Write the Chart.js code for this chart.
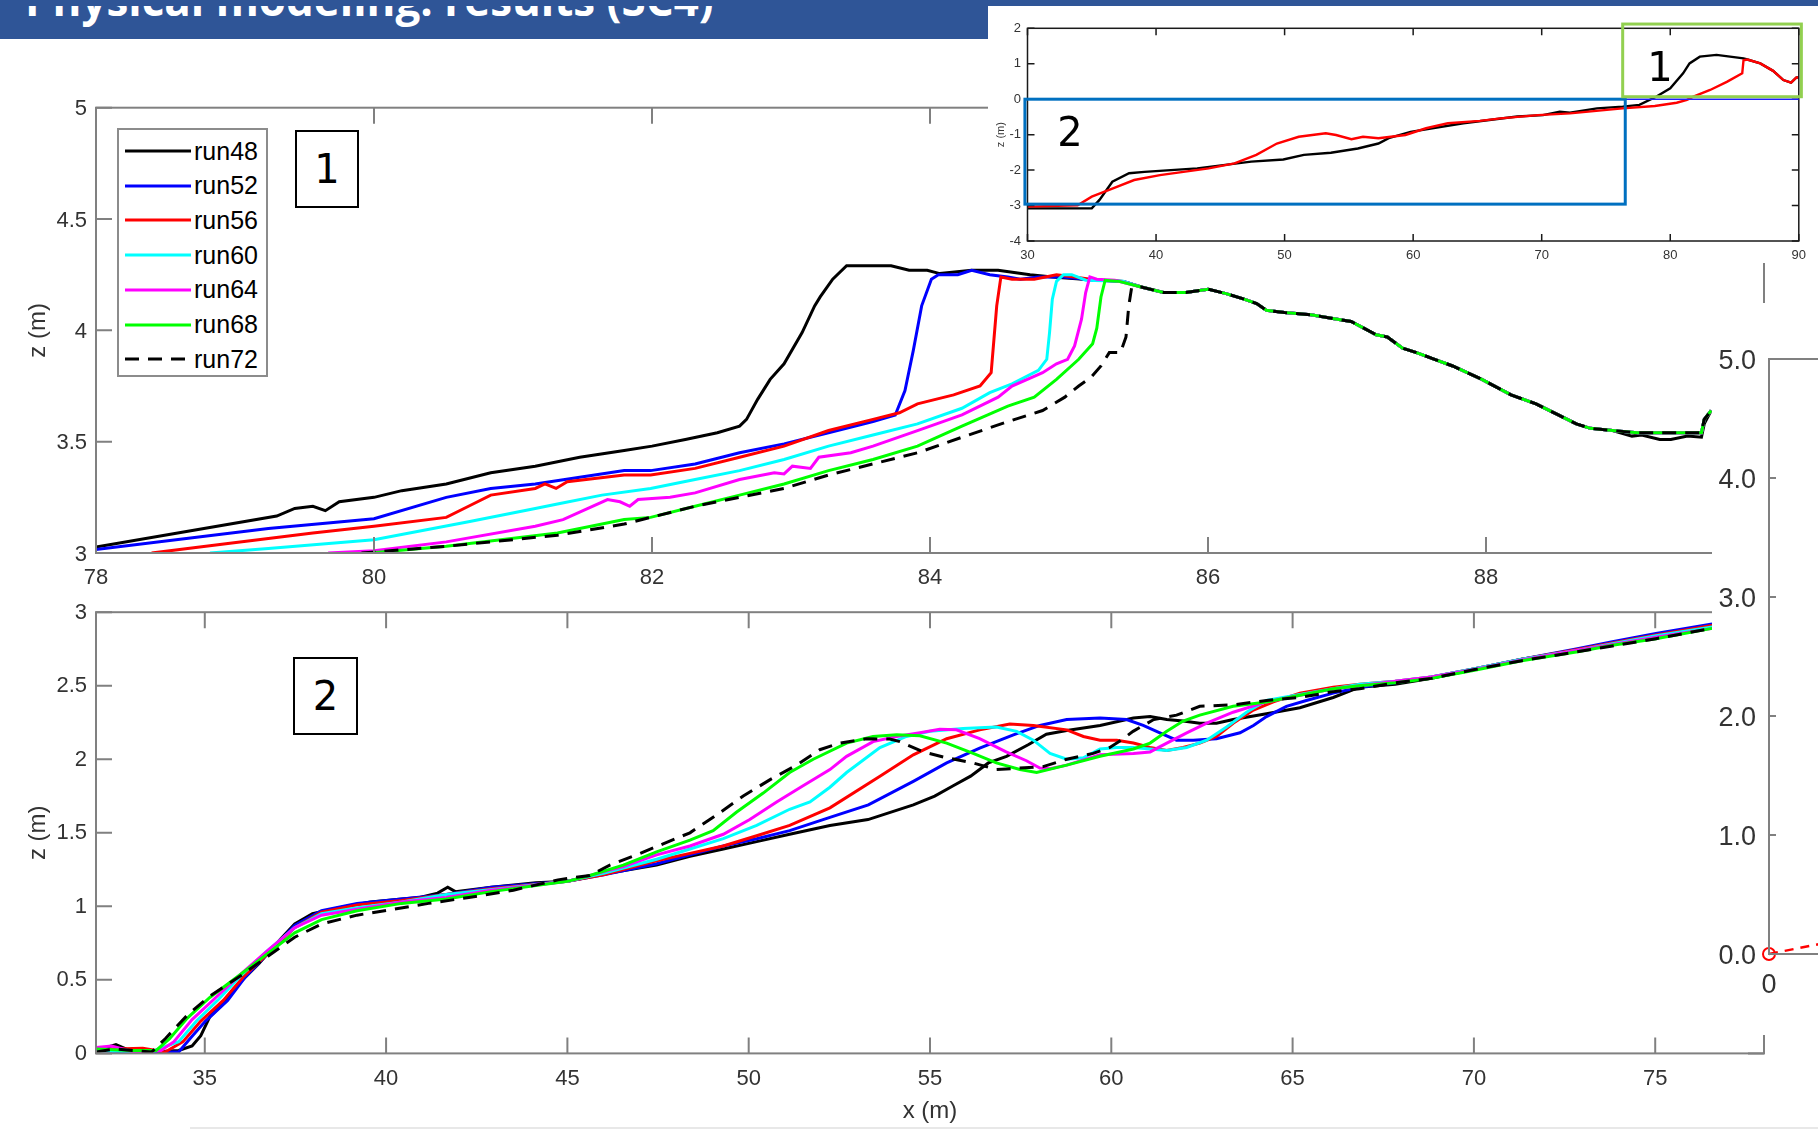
<!DOCTYPE html>
<html>
<head>
<meta charset="utf-8">
<title>Physical modeling: results (SC4)</title>
<script src="https://cdn.jsdelivr.net/npm/chart.js@4.4.1/dist/chart.umd.min.js"></script>
<style>
  html, body { margin: 0; padding: 0; width: 1818px; height: 1131px; overflow: hidden; background: #fff; }
  .abs { position: absolute; }
  #banner { left: 0; top: 0; width: 988px; height: 39px; background: #2f5597; overflow: hidden; }
  #strip { left: 0; top: 0; width: 1818px; height: 6px; background: #2f5597; }
  #title { left: 25px; color: #fff; font-weight: bold; font-family: "Open Sans", sans-serif; white-space: nowrap; line-height: 1; }
  #inset { left: 988px; top: 6px; width: 830px; height: 257px; background: #fff; }
  #overlay { left: 1712px; top: 303px; width: 106px; height: 732px; background: #fff; overflow: hidden; }
  #footline { left: 190px; top: 1127px; width: 1628px; height: 2px; background: #e8e8e8; }
  .tag { box-sizing: border-box; border: 2px solid #000; font-family: "DejaVu Sans", sans-serif; font-size: 40px; color: #000;
         display: flex; align-items: center; justify-content: center; background: #fff; }
  .num { font-family: "DejaVu Sans", sans-serif; font-size: 40px; color: #000; transform: translate(-50%, -50%); line-height: 1; }
  #legend { left: 117px; top: 128px; width: 151px; height: 249px; box-sizing: border-box; border: 2px solid #8c8c8c; background: #fff; }
  .lrow { position: absolute; left: 0; height: 34px; display: flex; align-items: center;
          font-family: "Liberation Sans", Arial, sans-serif; font-size: 25px; color: #000; }
  .lrow svg { margin-left: 6px; margin-right: 3px; }
</style>
</head>
<body>
<canvas id="topChart" class="abs" width="1800" height="540" style="left:0;top:60px"></canvas>
<canvas id="bottomChart" class="abs" width="1800" height="541" style="left:0;top:590px"></canvas>

<div id="legend" class="abs"></div>
<div class="abs tag" style="left:295px;top:130px;width:64px;height:78px">1</div>
<div class="abs tag" style="left:293px;top:657px;width:65px;height:78px">2</div>

<div id="banner" class="abs"><div id="title" class="abs">Physical modeling: results (SC4)</div></div>
<div id="strip" class="abs"></div>

<div id="inset" class="abs">
  <canvas id="insetChart" class="abs" width="830" height="257" style="left:0;top:0"></canvas>
</div>
<div class="abs num" style="left:1660px;top:67px">1</div>
<div class="abs num" style="left:1070px;top:132px">2</div>

<div id="overlay" class="abs">
  <canvas id="sideChart" class="abs" width="700" height="732" style="left:0;top:0"></canvas>
</div>
<div id="footline" class="abs"></div>

<script>
// tick labels
const topTicksX = [78, 80, 82, 84, 86, 88];
const topTicksY = [3, 3.5, 4, 4.5, 5];
const bottomTicksX = [35, 40, 45, 50, 55, 60, 65, 70, 75];
const bottomTicksY = [0, 0.5, 1, 1.5, 2, 2.5, 3];
const insetTicksX = [30, 40, 50, 60, 70, 80, 90];
const insetTicksY = [-4, -3, -2, -1, 0, 1, 2];
const sideTicksX = [0, 2, 4, 6, 8, 10];
const sideTicksY = [0, 1, 2, 3, 4, 5];

const runNames = ['run48', 'run52', 'run56', 'run60', 'run64', 'run68', 'run72'];
const runColors = ['#000000', '#0000ff', '#ff0000', '#00ffff', '#ff00ff', '#00ff00', '#000000'];

// zone 1 (berm crest), x (m) / z (m)
const top48 = [[78,3.027],[79.3,3.166],[79.43,3.2],[79.56,3.21],[79.65,3.19],[79.75,3.23],[80,3.25],[80.2,3.28],[80.52,3.31],[80.84,3.36],[81.16,3.39],[81.48,3.43],[81.8,3.46],[82.0,3.48],[82.24,3.51],[82.47,3.54],[82.63,3.57],[82.68,3.6],[82.76,3.69],[82.85,3.78],[82.95,3.85],[83.08,3.99],[83.17,4.11],[83.21,4.15],[83.3,4.23],[83.4,4.29],[83.72,4.29],[83.85,4.27],[83.98,4.27],[84.07,4.255],[84.3,4.27],[84.49,4.27],[84.72,4.25],[84.88,4.24],[85.2,4.225],[85.39,4.22]];
const top52 = [[78,3.016],[79.24,3.11],[80,3.154],[80.52,3.25],[80.84,3.29],[81.16,3.31],[81.48,3.34],[81.8,3.37],[81.99,3.37],[82.31,3.4],[82.63,3.45],[82.95,3.49],[83.27,3.54],[83.59,3.59],[83.75,3.62],[83.82,3.73],[83.88,3.91],[83.94,4.11],[84.01,4.23],[84.06,4.25],[84.2,4.25],[84.3,4.27],[84.43,4.25],[84.56,4.24],[84.65,4.23],[84.78,4.24],[84.95,4.24],[85.2,4.225],[85.39,4.22]];
const top56 = [[78.4,3.0],[78.92,3.04],[79.56,3.09],[80,3.12],[80.52,3.16],[80.68,3.21],[80.84,3.26],[81.16,3.29],[81.23,3.31],[81.31,3.29],[81.39,3.32],[81.8,3.35],[81.99,3.35],[82.31,3.38],[82.63,3.43],[82.95,3.48],[83.27,3.55],[83.59,3.6],[83.78,3.63],[83.91,3.67],[84.17,3.71],[84.36,3.75],[84.44,3.81],[84.46,3.96],[84.48,4.11],[84.51,4.24],[84.59,4.23],[84.75,4.23],[84.91,4.25],[85.04,4.24],[85.2,4.225],[85.39,4.22]];
const top60 = [[78.82,3.0],[79.24,3.02],[80,3.06],[80.68,3.14],[81.16,3.2],[81.32,3.22],[81.64,3.26],[81.99,3.29],[82.31,3.33],[82.63,3.37],[82.95,3.42],[83.27,3.48],[83.59,3.53],[83.91,3.58],[84.23,3.65],[84.43,3.72],[84.59,3.76],[84.78,3.82],[84.84,3.87],[84.86,3.99],[84.88,4.14],[84.91,4.22],[84.96,4.25],[85.02,4.25],[85.12,4.225],[85.39,4.22]];
const top64 = [[79.67,3.0],[80,3.01],[80.52,3.05],[81.16,3.12],[81.36,3.15],[81.68,3.24],[81.77,3.23],[81.84,3.21],[81.9,3.24],[82.13,3.25],[82.31,3.27],[82.63,3.33],[82.88,3.36],[82.95,3.355],[83.01,3.39],[83.14,3.38],[83.2,3.43],[83.43,3.45],[83.59,3.48],[83.91,3.55],[84.23,3.62],[84.49,3.7],[84.59,3.75],[84.81,3.81],[84.91,3.85],[84.99,3.87],[85.04,3.93],[85.09,4.05],[85.12,4.17],[85.15,4.24],[85.2,4.23],[85.33,4.225]];
const top68 = [[79.97,3.0],[80.52,3.03],[81.32,3.09],[81.8,3.15],[81.99,3.16],[82.31,3.21],[82.63,3.26],[82.95,3.31],[83.27,3.37],[83.59,3.42],[83.91,3.48],[84.23,3.57],[84.56,3.66],[84.75,3.7],[84.91,3.78],[85.07,3.87],[85.17,3.94],[85.2,4.01],[85.23,4.15],[85.26,4.225],[85.36,4.22]];
const top72 = [[79.91,3.0],[80.52,3.03],[81.32,3.08],[81.8,3.13],[81.99,3.16],[82.31,3.21],[82.63,3.25],[82.95,3.29],[83.27,3.35],[83.59,3.4],[83.91,3.45],[84.23,3.52],[84.56,3.59],[84.81,3.64],[84.97,3.7],[85.07,3.75],[85.16,3.79],[85.23,3.84],[85.29,3.9],[85.37,3.9],[85.41,3.97],[85.43,4.11],[85.45,4.19]];
// landward slope, identical for all runs
const topTail = [[85.52,4.195],[85.68,4.17],[85.84,4.17],[86.0,4.185],[86.13,4.165],[86.26,4.14],[86.35,4.12],[86.42,4.09],[86.55,4.08],[86.74,4.07],[86.93,4.05],[87.03,4.04],[87.21,3.98],[87.29,3.97],[87.4,3.92],[87.5,3.9],[87.63,3.87],[87.76,3.84],[87.97,3.78],[88.18,3.71],[88.36,3.67],[88.52,3.62],[88.65,3.58],[88.75,3.56],[88.91,3.55]];
const topEnd = [[89.09,3.54],[89.3,3.54],[89.55,3.54],[89.57,3.6],[89.62,3.64]];
const top48End = [[89.05,3.525],[89.12,3.53],[89.25,3.51],[89.33,3.51],[89.45,3.525],[89.55,3.52],[89.57,3.58],[89.62,3.64]];

// zone 2 (lower beach)
const bot48 = [[32,0.02],[32.55,0.06],[32.92,0.02],[33.54,0.01],[34.28,0.02],[34.65,0.05],[34.89,0.12],[35.14,0.25],[35.51,0.34],[36,0.49],[36.49,0.61],[36.99,0.75],[37.48,0.88],[37.97,0.95],[38.71,0.99],[39.57,1.03],[40.43,1.05],[40.93,1.06],[41.42,1.09],[41.7,1.13],[41.91,1.1],[42.9,1.13],[44.13,1.16],[45,1.17],[46,1.22],[47.46,1.28],[48.38,1.34],[49.3,1.39],[50.22,1.44],[51.13,1.49],[52.24,1.55],[53.29,1.59],[54.54,1.69],[55.13,1.75],[55.64,1.82],[56.12,1.885],[56.61,1.975],[57.11,2.02],[57.72,2.1],[58.21,2.17],[58.77,2.195],[59.69,2.23],[60.61,2.28],[61.07,2.29],[61.53,2.27],[61.98,2.26],[62.44,2.245],[62.9,2.245],[63.36,2.27],[64.28,2.31],[65.2,2.35],[66.12,2.42],[66.85,2.49],[67.83,2.51],[68.83,2.55],[70.02,2.61],[71.32,2.68],[72.82,2.74],[73.82,2.79],[75.02,2.85],[76.57,2.91]];
const bot52 = [[32,0.02],[33,0.01],[34.28,0.01],[34.59,0.1],[35.02,0.22],[35.63,0.36],[36.12,0.52],[36.74,0.68],[37.48,0.87],[38.22,0.97],[39.2,1.02],[40.43,1.05],[41.66,1.08],[42.9,1.13],[45,1.17],[46,1.215],[47.46,1.29],[48.38,1.35],[49.3,1.41],[50.22,1.46],[51.13,1.515],[52.24,1.605],[53.3,1.69],[54.54,1.85],[55.46,1.975],[56.37,2.076],[57.3,2.166],[58.03,2.23],[58.77,2.27],[59.69,2.28],[60.42,2.27],[60.88,2.23],[61.34,2.18],[61.8,2.13],[62.26,2.13],[62.9,2.14],[63.55,2.18],[63.92,2.23],[64.28,2.29],[64.83,2.36],[65.38,2.4],[66.12,2.45],[66.85,2.49],[67.83,2.52],[68.83,2.56],[70.02,2.615],[71.32,2.68],[72.82,2.75],[73.82,2.8],[75.02,2.855],[76.57,2.92]];
const bot56 = [[32,0.02],[32.5,0.03],[33.29,0.035],[33.91,0.01],[34.4,0.08],[34.89,0.22],[35.51,0.36],[36.06,0.52],[36.74,0.68],[37.48,0.855],[38.22,0.96],[39.2,1.01],[40.43,1.04],[41.66,1.08],[42.9,1.12],[45,1.17],[46,1.215],[47.46,1.31],[48.38,1.36],[49.3,1.41],[50.22,1.48],[51.13,1.55],[52.24,1.67],[53.62,1.885],[54.54,2.03],[55.46,2.14],[56.37,2.2],[57.2,2.24],[57.85,2.23],[58.77,2.2],[59.23,2.155],[59.69,2.13],[60.15,2.13],[60.61,2.11],[61.07,2.08],[61.53,2.06],[61.98,2.08],[62.44,2.11],[62.9,2.155],[63.36,2.245],[63.92,2.335],[64.47,2.39],[65.2,2.45],[66.12,2.49],[66.85,2.51],[67.83,2.53],[68.83,2.56],[70.02,2.615],[71.32,2.68],[72.82,2.745],[73.82,2.79],[75.02,2.845],[76.57,2.91]];
const bot60 = [[32,0.02],[33.5,0.01],[34.28,0.08],[34.77,0.22],[35.39,0.37],[36,0.53],[36.74,0.7],[37.48,0.855],[38.22,0.95],[39.2,0.99],[40.43,1.03],[41.66,1.08],[45,1.17],[46,1.225],[47.46,1.32],[48.38,1.39],[49.3,1.46],[50.22,1.55],[51.13,1.66],[51.69,1.71],[52.24,1.81],[52.7,1.91],[53.62,2.08],[54.35,2.155],[55,2.19],[55.91,2.21],[56.83,2.22],[57.39,2.19],[57.85,2.13],[58.31,2.04],[58.77,2.0],[59.23,2.01],[59.69,2.07],[60.15,2.08],[60.61,2.08],[61.07,2.07],[61.53,2.06],[62.08,2.08],[62.63,2.13],[63.18,2.22],[63.73,2.32],[64.28,2.4],[65.2,2.44],[66.12,2.48],[66.85,2.51],[67.83,2.53],[68.83,2.56],[70.02,2.615],[71.32,2.68],[72.82,2.74],[73.82,2.785],[75.02,2.84],[76.57,2.9]];
const bot64 = [[32,0.04],[32.43,0.05],[33.05,0.01],[33.79,0.02],[34.15,0.08],[34.65,0.23],[35.26,0.37],[36,0.54],[36.74,0.7],[37.48,0.855],[38.22,0.94],[39.2,0.98],[40.43,1.03],[41.66,1.06],[42.9,1.11],[45,1.17],[46.54,1.27],[47.46,1.35],[48.38,1.41],[49.3,1.49],[50.03,1.59],[50.77,1.71],[51.5,1.82],[52.24,1.93],[52.7,2.02],[53.43,2.12],[54.08,2.155],[54.72,2.18],[55.27,2.204],[55.73,2.2],[56.37,2.14],[57.1,2.05],[57.66,1.99],[58.03,1.94],[58.31,1.935],[58.77,1.96],[59.69,2.03],[60.61,2.04],[61.07,2.05],[61.53,2.11],[62.08,2.18],[62.63,2.245],[63.36,2.32],[64.28,2.39],[65.2,2.435],[66.12,2.48],[66.85,2.5],[67.83,2.53],[68.83,2.56],[70.02,2.61],[71.32,2.675],[72.82,2.74],[73.82,2.78],[75.02,2.83],[76.57,2.89]];
const bot68 = [[32,0.03],[33,0.02],[33.66,0.02],[34.03,0.1],[34.52,0.24],[35.14,0.38],[36,0.54],[36.74,0.68],[37.48,0.82],[38.22,0.91],[39.2,0.97],[40.43,1.02],[41.66,1.05],[42.9,1.1],[45,1.17],[45.62,1.21],[46.54,1.28],[47.46,1.37],[48.38,1.45],[49.02,1.515],[49.66,1.64],[50.4,1.77],[51.13,1.91],[51.78,2.0],[52.7,2.11],[53.43,2.155],[54.08,2.166],[54.72,2.16],[55.46,2.11],[56.19,2.04],[56.83,1.975],[57.48,1.93],[57.94,1.91],[58.77,1.96],[59.69,2.02],[60.61,2.07],[61.07,2.11],[61.53,2.19],[61.98,2.26],[62.44,2.3],[63.36,2.36],[64.28,2.39],[65.2,2.435],[66.12,2.48],[66.85,2.5],[67.83,2.52],[68.83,2.55],[70.02,2.605],[71.32,2.67],[72.82,2.73],[73.82,2.775],[75.02,2.82],[76.57,2.89]];
const bot72 = [[32,0.01],[32.5,0.03],[33.54,0.01],[33.91,0.1],[34.52,0.26],[35.14,0.39],[36,0.53],[36.74,0.66],[37.48,0.79],[38.22,0.88],[39.2,0.94],[40.19,0.98],[41.17,1.02],[42.28,1.06],[43.51,1.11],[44.74,1.18],[45.62,1.21],[46.17,1.28],[46.91,1.35],[47.64,1.425],[48.38,1.5],[49.11,1.62],[49.85,1.75],[50.58,1.86],[51.32,1.96],[51.96,2.065],[52.51,2.11],[53.25,2.14],[53.89,2.137],[54.17,2.12],[54.81,2.05],[55.46,2.01],[56.19,1.975],[56.83,1.93],[57.48,1.94],[58.12,1.95],[58.77,2.0],[59.5,2.04],[59.96,2.08],[60.33,2.14],[60.6,2.19],[61.17,2.27],[61.8,2.3],[62.44,2.36],[63.36,2.37],[64.28,2.4],[65.2,2.42],[66.12,2.46],[66.85,2.48],[67.83,2.52],[68.83,2.55],[70.02,2.61],[71.32,2.67],[72.82,2.73],[73.82,2.77],[75.02,2.82],[76.57,2.89]];

// full profile (inset)
const inset48 = [[30,-3.08],[35,-3.08],[35.6,-2.84],[36.6,-2.33],[37.9,-2.09],[39.1,-2.05],[43.2,-1.95],[47.4,-1.76],[49.9,-1.7],[51.5,-1.57],[53.6,-1.51],[55.7,-1.39],[57.3,-1.25],[58.1,-1.1],[59.8,-0.92],[63.9,-0.68],[68.1,-0.49],[70.1,-0.45],[71.4,-0.35],[72.2,-0.38],[74.3,-0.26],[76.3,-0.21],[77.6,-0.16],[78.9,0.07],[80.0,0.31],[81.0,0.73],[81.5,1.01],[82.3,1.2],[83.6,1.25],[85.7,1.15],[86.0,1.12],[87.0,1.01],[88.0,0.8],[88.8,0.54],[89.4,0.47],[89.8,0.61],[90,0.62]];
const inset56 = [[30,-3.03],[33.9,-2.99],[35,-2.75],[36.6,-2.52],[38.3,-2.28],[40.3,-2.14],[44.1,-1.95],[46.1,-1.81],[47.8,-1.57],[49.4,-1.25],[51.1,-1.06],[53.2,-0.96],[54,-1.01],[55.2,-1.13],[56.1,-1.06],[57.3,-1.1],[59.4,-1.01],[61,-0.82],[62.7,-0.68],[65.2,-0.61],[66.8,-0.54],[69.7,-0.45],[72.2,-0.4],[76.3,-0.26],[78.8,-0.19],[80.5,-0.1],[81.3,-0.02],[81.8,0.07],[83.1,0.26],[84.4,0.49],[85.6,0.73],[85.7,1.1],[86.0,1.12],[87.0,1.01],[88.0,0.8],[88.8,0.54],[89.4,0.47],[89.8,0.61],[90,0.62]];
// zoom windows drawn on the inset (data units)
const insetZones = [
  { x0: 29.8, x1: 76.5, y0: -2.96, y1: 0.0, color: '#0070c0' },
  { x0: 76.3, x1: 90.2, y0: 0.07, y1: 2.12, color: '#92d050' }
];
const insetWaterLine = [76.5, 90, 0.0];

// partial side plot
const sideX = [0, 1];
const sideY = [0, 0.1];

const pts = arr => arr.map(([x, y]) => ({ x, y }));
const tickFont = { family: '"Liberation Sans", Arial, sans-serif', size: 22 };
const smallFont = { family: '"Liberation Sans Narrow", "Liberation Sans", Arial, sans-serif', size: 13 };

// MATLAB-like box with inward ticks
const boxPlugin = {
  id: 'box',
  afterDatasetsDraw(chart, args, o) {
    const { ctx, chartArea: a, scales: { x, y } } = chart;
    ctx.save();
    ctx.strokeStyle = o.color;
    ctx.lineWidth = o.width;
    ctx.strokeRect(a.left, a.top, a.right - a.left, a.bottom - a.top);
    ctx.beginPath();
    x.ticks.forEach(t => {
      const p = x.getPixelForValue(t.value);
      ctx.moveTo(p, a.bottom); ctx.lineTo(p, a.bottom - o.len);
      ctx.moveTo(p, a.top); ctx.lineTo(p, a.top + o.len);
    });
    y.ticks.forEach(t => {
      const p = y.getPixelForValue(t.value);
      ctx.moveTo(a.left, p); ctx.lineTo(a.left + o.len, p);
      ctx.moveTo(a.right, p); ctx.lineTo(a.right - o.len, p);
    });
    ctx.stroke();
    ctx.restore();
  }
};

const zonesPlugin = {
  id: 'zones',
  afterDraw(chart) {
    const { ctx, scales: { x, y } } = chart;
    ctx.save();
    ctx.strokeStyle = '#1f1fff';
    ctx.lineWidth = 1.5;
    ctx.beginPath();
    ctx.moveTo(x.getPixelForValue(insetWaterLine[0]), y.getPixelForValue(insetWaterLine[2]));
    ctx.lineTo(x.getPixelForValue(insetWaterLine[1]), y.getPixelForValue(insetWaterLine[2]));
    ctx.stroke();
    ctx.lineWidth = 3;
    insetZones.forEach(z => {
      const l = x.getPixelForValue(z.x0), r = x.getPixelForValue(z.x1);
      const t = y.getPixelForValue(z.y1), b = y.getPixelForValue(z.y0);
      ctx.strokeStyle = z.color;
      ctx.strokeRect(l, t, r - l, b - t);
    });
    ctx.restore();
  }
};

function axis(min, max, ticks, o) {
  return {
    type: 'linear', min, max,
    afterBuildTicks: s => { s.ticks = ticks.map(v => ({ value: v })); },
    afterFit: s => { if (o.w != null) s.width = o.w; if (o.h != null) s.height = o.h; },
    grid: { display: false, drawTicks: false },
    border: { display: false },
    ticks: { padding: o.pad, color: '#333', font: o.font, maxRotation: 0, autoSkip: false,
             labelOffset: o.shift || 0, callback: o.fmt || (v => String(v)) },
    title: o.title ? { display: true, text: o.title, color: '#333', font: o.titleFont, padding: o.titlePad } : { display: false }
  };
}

function runSets(series, width) {
  return series.map((s, i) => ({
    label: runNames[i],
    data: pts(s),
    borderColor: runColors[i],
    borderWidth: width,
    borderDash: i === 6 ? [14, 9] : [],
    pointRadius: 0,
    tension: 0,
    order: series.length - i
  }));
}

function baseOptions(padding, scales, box) {
  return {
    responsive: false, animation: false, devicePixelRatio: 1,
    layout: { padding },
    plugins: { legend: { display: false }, tooltip: { enabled: false }, box },
    scales
  };
}

const titleFont = { family: '"Liberation Sans", Arial, sans-serif', size: 24 };

new Chart(document.getElementById('topChart'), {
  type: 'line',
  data: { datasets: runSets([
    top48.concat(topTail, top48End), top52.concat(topTail, topEnd), top56.concat(topTail, topEnd),
    top60.concat(topTail, topEnd), top64.concat(topTail, topEnd), top68.concat(topTail, topEnd),
    top72.concat(topTail, topEnd)], 3) },
  options: baseOptions({ top: 47.7, right: 36, bottom: 0, left: 0 }, {
    x: axis(78, 90, topTicksX, { h: 47, pad: 11.5, font: tickFont }),
    y: axis(3, 5, topTicksY, { w: 96, pad: 9, font: tickFont, shift: 1.5, title: 'z (m)', titleFont, titlePad: { top: 23.6, bottom: 0 } })
  }, { color: '#808080', width: 2, len: 16 }),
  plugins: [boxPlugin]
});

new Chart(document.getElementById('bottomChart'), {
  type: 'line',
  data: { datasets: runSets([bot48, bot52, bot56, bot60, bot64, bot68, bot72], 3) },
  options: baseOptions({ top: 17.9, right: 36, bottom: 0, left: 0 }, {
    x: axis(32, 78, bottomTicksX, { h: 77.6, pad: 12.5, font: tickFont, title: 'x (m)', titleFont, titlePad: { top: 0, bottom: 5.5 } }),
    y: axis(0, 3, bottomTicksY, { w: 96, pad: 9, font: tickFont, shift: 0.5, title: 'z (m)', titleFont, titlePad: { top: 23.6, bottom: 0 } })
  }, { color: '#808080', width: 2, len: 16 }),
  plugins: [boxPlugin]
});

new Chart(document.getElementById('insetChart'), {
  type: 'line',
  data: { datasets: [
    { label: 'run48', data: pts(inset48), borderColor: '#000', borderWidth: 2.4, pointRadius: 0, order: 1 },
    { label: 'run56', data: pts(inset56), borderColor: '#ff0000', borderWidth: 2.4, pointRadius: 0, order: 0 }
  ] },
  options: baseOptions({ top: 22.3, right: 19.2, bottom: 0, left: 0 }, {
    x: axis(30, 90, insetTicksX, { h: 22, pad: 6.2, font: smallFont }),
    y: axis(-4, 2, insetTicksY, { w: 39.5, pad: 6.5, font: smallFont, title: 'z (m)', titleFont: { family: smallFont.family, size: 11 }, titlePad: { top: 6.4, bottom: 0 } })
  }, { color: '#1a1a1a', width: 1.5, len: 7 }),
  plugins: [boxPlugin, zonesPlugin]
});

const sideFont = { family: '"Liberation Sans", Arial, sans-serif', size: 27 };
new Chart(document.getElementById('sideChart'), {
  type: 'line',
  data: { datasets: [{
    data: sideX.map((x, i) => ({ x, y: sideY[i] })),
    borderColor: '#ff0000', borderWidth: 2.5, borderDash: [9, 7],
    pointRadius: ctx => ctx.dataIndex === 0 ? 6 : 0,
    pointBorderColor: '#ff0000', pointBorderWidth: 2, pointBackgroundColor: 'rgba(0,0,0,0)',
    clip: false
  }] },
  options: baseOptions({ top: 56, right: 43, bottom: 0, left: 0 }, {
    x: axis(0, 10, sideTicksX, { h: 81, pad: 15.5, font: sideFont }),
    y: axis(0, 5, sideTicksY, { w: 57, pad: 13, font: sideFont, shift: 3, fmt: v => v.toFixed(1) })
  }, { color: '#808080', width: 2, len: 7 }),
  plugins: [boxPlugin]
});

// legend
const legend = document.getElementById('legend');
runNames.forEach((name, i) => {
  const row = document.createElement('div');
  row.className = 'lrow';
  row.style.top = (4 + i * 34.7) + 'px';
  const dash = i === 6 ? ' stroke-dasharray="14 9"' : '';
  row.innerHTML = `<svg width="66" height="6"><line x1="0" y1="3" x2="66" y2="3" stroke="${runColors[i]}" stroke-width="3"${dash}/></svg><span>${name}</span>`;
  legend.appendChild(row);
});

// banner title, sized to the original width
const title = document.getElementById('title');
const mctx = document.createElement('canvas').getContext('2d');
mctx.font = 'bold 44px "Open Sans"';
const fs = 44 * 689 / mctx.measureText(title.textContent).width;
title.style.fontSize = fs + 'px';
title.style.top = (17 - 0.888 * fs) + 'px';
</script>
</body>
</html>
